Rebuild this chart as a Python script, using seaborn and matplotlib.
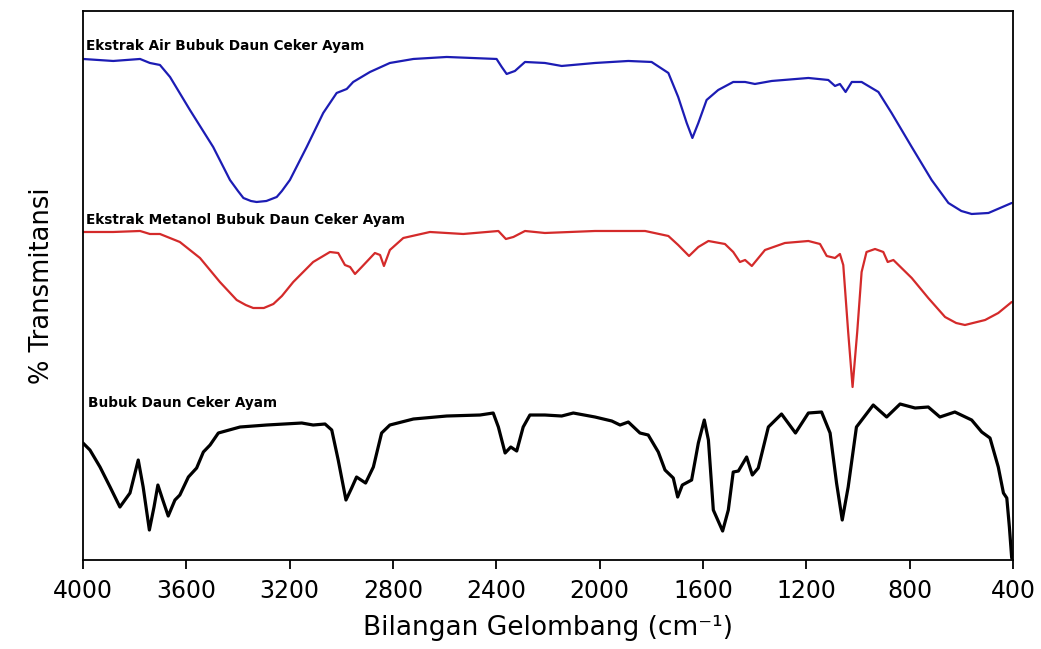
import numpy as np
import pandas as pd
import seaborn as sns
from matplotlib import pyplot as plt

sns.set_theme(style="ticks")
plt.rcParams['font.family'] = ['DejaVu Sans']
plt.rcParams['text.color'] = 'black'
plt.rcParams['axes.labelcolor'] = 'black'
plt.rcParams['xtick.color'] = 'black'

# FTIR spectra, transmittance in arbitrary units (curves are offset)
wn_air = [4000, 3883, 3779, 3741, 3702, 3663, 3586, 3496, 3431, 3400, 3379, 3350, 3328,
          3290, 3250, 3230, 3199, 3134, 3070, 3018, 2979, 2954, 2889, 2812, 2721, 2592,
          2399, 2379, 2360, 2328, 2289, 2212, 2147, 2018, 1889, 1799, 1734, 1696, 1663,
          1641, 1618, 1586, 1541, 1483, 1437, 1399, 1334, 1192, 1115, 1089, 1070, 1048,
          1024, 986, 921, 870, 792, 715, 650, 600, 560, 495, 405]
t_air = [501, 499, 501, 497, 495, 483, 450, 413, 380, 369, 362, 359, 358,
         359, 363, 369, 380, 413, 447, 467, 471, 478, 488, 497, 501, 503,
         501, 493, 486, 489, 498, 497, 494, 497, 499, 498, 487, 463, 437,
         422, 437, 460, 470, 478, 478, 476, 479, 482, 480, 474, 476, 468,
         478, 478, 468, 447, 413, 380, 357, 349, 346, 347, 357]

wn_metanol = [4000, 3883, 3779, 3741, 3702, 3625, 3547, 3470, 3405, 3370, 3341, 3300, 3263,
              3230, 3186, 3109, 3044, 3012, 2986, 2966, 2947, 2921, 2870, 2850, 2835, 2812,
              2760, 2657, 2528, 2392, 2363, 2334, 2289, 2212, 2018, 1824, 1734, 1696, 1654,
              1618, 1579, 1515, 1483, 1457, 1437, 1411, 1360, 1283, 1192, 1147, 1121, 1089,
              1070, 1057, 1038, 1021, 1003, 986, 967, 934, 902, 885, 863, 792, 728, 663,
              620, 586, 508, 457, 405]
t_metanol = [328, 328, 329, 326, 326, 318, 302, 278, 260, 255, 252, 252, 256,
             264, 278, 298, 308, 307, 295, 293, 286, 293, 307, 305, 294, 310,
             322, 328, 326, 329, 321, 323, 329, 327, 329, 329, 324, 315, 304,
             313, 319, 316, 308, 298, 300, 294, 310, 317, 319, 316, 304, 302,
             306, 295, 228, 173, 228, 288, 308, 311, 308, 298, 300, 282, 262, 243,
             237, 235, 240, 247, 258]

wn_bubuk = [4000, 3973, 3934, 3895, 3857, 3818, 3786, 3767, 3743, 3725, 3710, 3691, 3670,
            3644, 3625, 3592, 3560, 3534, 3508, 3476, 3392, 3289, 3153, 3109, 3063, 3037,
            3012, 2982, 2960, 2941, 2906, 2876, 2844, 2812, 2721, 2592, 2463, 2412, 2392,
            2366, 2344, 2321, 2296, 2270, 2212, 2147, 2102, 2018, 1953, 1921, 1889, 1844,
            1812, 1773, 1747, 1715, 1698, 1680, 1644, 1618, 1595, 1579, 1560, 1524, 1502,
            1483, 1463, 1431, 1409, 1386, 1347, 1296, 1242, 1192, 1141, 1108, 1083, 1061,
            1038, 1006, 941, 889, 837, 779, 728, 683, 625, 560, 521, 489, 457, 437, 424,
            414, 405]
t_bubuk = [117, 110, 93, 73, 53, 67, 100, 73, 30, 53, 75, 60, 44,
           60, 65, 83, 92, 108, 115, 127, 133, 135, 137, 135, 136, 130,
           100, 60, 72, 83, 77, 93, 127, 135, 141, 144, 145, 147, 133,
           107, 113, 109, 133, 145, 145, 144, 147, 143, 139, 135, 138, 127,
           125, 108, 90, 82, 63, 75, 80, 117, 140, 120, 50, 29, 50,
           88, 89, 103, 85, 92, 133, 146, 127, 147, 148, 127, 77, 40,
           73, 133, 155, 143, 156, 152, 153, 143, 148, 140, 128, 122, 93, 67, 62,
           33, 2]

names = ['Ekstrak Air Bubuk Daun Ceker Ayam',
         'Ekstrak Metanol Bubuk Daun Ceker Ayam',
         'Bubuk Daun Ceker Ayam']
colors = ['#1c1cb4', '#d42a2a', '#000000']

df = pd.concat([
    pd.DataFrame({'wn': wn_air, 't': t_air, 'sample': names[0]}),
    pd.DataFrame({'wn': wn_metanol, 't': t_metanol, 'sample': names[1]}),
    pd.DataFrame({'wn': wn_bubuk, 't': t_bubuk, 'sample': names[2]}),
])

fig = plt.figure(figsize=(10.41, 6.49), dpi=100)
ax = fig.add_axes([0.0797, 0.1371, 0.8934, 0.8460])

for name, color, lw in zip(names, colors, [1.6, 1.6, 2.3]):
    sns.lineplot(data=df[df['sample'] == name], x='wn', y='t', color=color,
                 linewidth=lw, estimator=None, ax=ax, legend=False)

ax.text(3988, 514, names[0], fontsize=9.8, fontweight='bold', va='center', ha='left')
ax.text(3988, 340, names[1], fontsize=9.8, fontweight='bold', va='center', ha='left')
ax.text(3980, 157, names[2], fontsize=9.8, fontweight='bold', va='center', ha='left')

ax.set_xlim(4000, 400)
ax.set_ylim(0, 549)
ax.set_xticks(np.arange(4000, 399, -400))
ax.set_yticks([])
ax.tick_params(axis='x', direction='out', length=6.5, width=1.3, pad=7, labelsize=17)
for sp in ax.spines.values():
    sp.set_linewidth(1.3)
    sp.set_color('black')
ax.set_xlabel('Bilangan Gelombang (cm\u207b\u00b9)', fontsize=19, labelpad=9)
ax.set_ylabel('% Transmitansi', fontsize=18.5, labelpad=20)

plt.savefig('out.png', dpi=100)
